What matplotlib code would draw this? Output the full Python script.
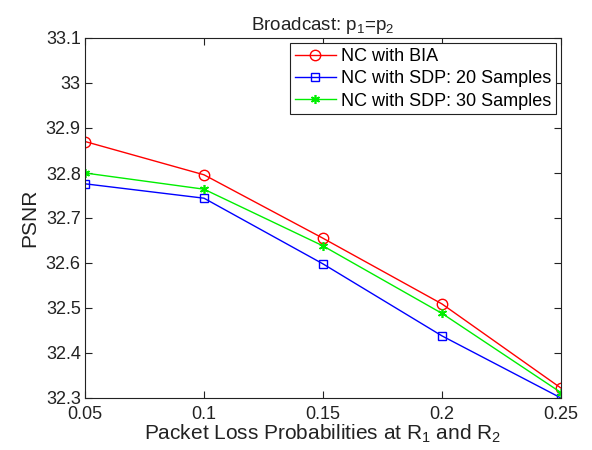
import matplotlib
matplotlib.use("Agg")
import matplotlib.pyplot as plt

plt.rcParams["font.family"] = ["Liberation Sans", "DejaVu Sans"]
plt.rcParams["mathtext.fontset"] = "custom"
plt.rcParams["mathtext.rm"] = "Liberation Sans"
plt.rcParams["mathtext.it"] = "Liberation Sans:italic"

loss_prob = [0.05, 0.10, 0.15, 0.20, 0.25]
psnr_bia = [32.870, 32.796, 32.655, 32.509, 32.322]
psnr_sdp20 = [32.776, 32.744, 32.598, 32.438, 32.300]
psnr_sdp30 = [32.800, 32.764, 32.638, 32.488, 32.312]

x_ticks = [0.05, 0.1, 0.15, 0.2, 0.25]
x_tick_labels = ["0.05", "0.1", "0.15", "0.2", "0.25"]
y_ticks = [32.3, 32.4, 32.5, 32.6, 32.7, 32.8, 32.9, 33.0, 33.1]
y_tick_labels = ["32.3", "32.4", "32.5", "32.6", "32.7", "32.8", "32.9", "33", "33.1"]

fig = plt.figure(figsize=(5.92, 4.5), dpi=100)
ax = fig.add_axes([85 / 592, 1 - 398 / 450, (561 - 85) / 592, (398 - 38) / 450])

ax.plot(loss_prob, psnr_bia, color="#ff0000", lw=1.0, marker="o", ms=7.5,
        mfc="none", mec="#ff0000", mew=1.0, label="NC with BIA")
ax.plot(loss_prob, psnr_sdp20, color="#0000ff", lw=1.0, marker="s", ms=5.5,
        mfc="none", mec="#0000ff", mew=1.0, label="NC with SDP: 20 Samples")
ax.plot(loss_prob, psnr_sdp30, color="#00ee00", lw=1.0, marker=(6, 2, 0), ms=6.5,
        mfc="#00ee00", mec="#00ee00", mew=1.2, label="NC with SDP: 30 Samples")

ax.set_xlim(0.05, 0.25)
ax.set_ylim(32.3, 33.1)
ax.set_xticks(x_ticks)
ax.set_xticklabels(x_tick_labels)
ax.set_yticks(y_ticks)
ax.set_yticklabels(y_tick_labels)
ax.tick_params(direction="in", length=5, width=0.8, top=True, right=True,
               labelsize=13, colors="#222222", pad=3)
ax.tick_params(axis="x", pad=5.5)
for s in ax.spines.values():
    s.set_linewidth(0.8)
    s.set_color("#222222")

ax.set_title("Broadcast: p$_1$=p$_2$", fontsize=13.5, color="#222222", pad=6)
ax.set_xlabel("Packet Loss Probabilities at R$_1$ and R$_2$", fontsize=15,
              color="#222222", labelpad=0)
ax.set_ylabel("PSNR", fontsize=15, color="#222222", labelpad=5)

leg = ax.legend(loc="upper right", bbox_to_anchor=(0.99, 0.985), fontsize=13,
                frameon=True, fancybox=False, framealpha=1, edgecolor="#222222",
                handlelength=2.3, handletextpad=0.3, borderpad=0.25,
                labelspacing=0.3, borderaxespad=0.0)
leg.get_frame().set_linewidth(0.8)

fig.savefig("out.png", dpi=100)
